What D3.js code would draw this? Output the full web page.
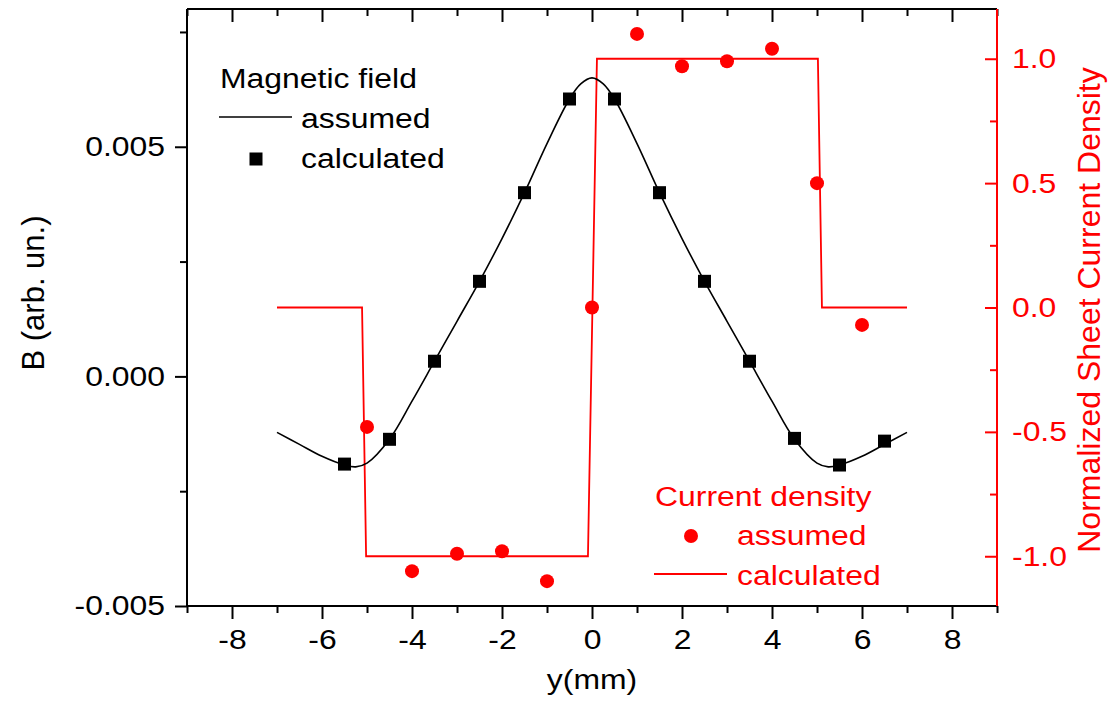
<!DOCTYPE html>
<html>
<head>
<meta charset="utf-8">
<script src="https://cdn.jsdelivr.net/npm/d3@7"></script>
<style>
  body { margin: 0; background: #fff; }
  svg text { font-family: Arial, "Liberation Sans", sans-serif; }
</style>
</head>
<body>
<div id="chart"></div>
<script>
// Magnetic field, assumed (smooth curve)
const fieldX = [-7, -6.5, -6, -5.5, -5.25, -5, -4.5, -4, -3.5, -3, -2.5, -2, -1.5, -1, -0.5, -0.25, 0,
                0.25, 0.5, 1, 1.5, 2, 2.5, 3, 3.5, 4, 4.5, 5, 5.25, 5.5, 6, 6.5, 7];
const fieldB = [-0.00122, -0.00148, -0.00174, -0.00193, -0.00197, -0.00189, -0.00137, -0.00054, 0.00033, 0.0012, 0.00207, 0.0030, 0.0040, 0.00507, 0.00604, 0.00637, 0.0065,
                0.00637, 0.00604, 0.00507, 0.0040, 0.0030, 0.00207, 0.0012, 0.00033, -0.00054, -0.00137, -0.00189, -0.00197, -0.00193, -0.00174, -0.00148, -0.00122];

// Magnetic field, calculated (squares)
const calcX = [-5.5, -4.5, -3.5, -2.5, -1.5, -0.5, 0.5, 1.5, 2.5, 3.5, 4.5, 5.5, 6.5];
const calcB = [-0.00191, -0.00137, 0.00033, 0.00207, 0.0040, 0.00604, 0.00604, 0.0040, 0.00207, 0.00033, -0.00135, -0.00193, -0.00141];

// Current density, assumed (dots)
const densX = [-5, -4, -3, -2, -1, 0, 1, 2, 3, 4, 5, 6];
const densJ = [-0.48, -1.06, -0.99, -0.98, -1.10, 0.0, 1.10, 0.97, 0.99, 1.04, 0.50, -0.07];

// Current density, calculated (step line)
const stepX = [-7, -5.11, -5.02, -0.09, 0.11, 5.02, 5.11, 7];
const stepJ = [0, 0, -1, -1, 1, 1, 0, 0];

const xMajor = [-8, -6, -4, -2, 0, 2, 4, 6, 8];
const xMinor = [-9, -7, -5, -3, -1, 1, 3, 5, 7, 9];
const bMajor = [-0.005, 0, 0.005];
const bMinor = [-0.0025, 0.0025, 0.0075];
const jMajor = [-1.0, -0.5, 0.0, 0.5, 1.0];
const jMinor = [-0.75, -0.25, 0.25, 0.75];

const width = 1109, height = 704;
const pLeft = 187, pRight = 997, pTop = 9, pBottom = 606;
const red = "#ff0000";
const fs = 28, sx = 1.14;   // horizontal text is drawn a bit wide in the original

const svg = d3.select("#chart").append("svg")
  .attr("width", width).attr("height", height)
  .attr("viewBox", [0, 0, width, height]);

const x = d3.scaleLinear().domain([-9, 9]).range([pLeft, pRight]);
const yB = d3.scaleLinear().domain([-0.005, 0.008]).range([pBottom, pTop]);
const yJ = d3.scaleLinear().domain([-1.2, 1.2]).range([pBottom, pTop]);

const minus = f => d => d < 0 ? "-" + f(-d) : f(d);

// widen horizontal text around its anchor point
const stretch = sel => sel.each(function() {
  const t = d3.select(this);
  const tx = +t.attr("x") || 0, ty = +t.attr("y") || 0;
  t.attr("x", null).attr("y", null)
    .attr("transform", `translate(${tx},${ty}) scale(${sx},1)`);
});

// Axes
const styleAxis = (g, color) => {
  g.select(".domain").remove();
  g.attr("font-family", null);
  g.selectAll("line").attr("stroke", color).attr("stroke-width", 2);
  g.selectAll("text").attr("fill", color).attr("font-size", fs).call(stretch);
};

// bottom
svg.append("g").attr("transform", `translate(0,${pBottom})`)
  .call(d3.axisBottom(x).tickValues(xMinor).tickSize(7).tickFormat(""))
  .call(g => styleAxis(g, "#000"));
svg.append("g").attr("transform", `translate(0,${pBottom})`)
  .call(d3.axisBottom(x).tickValues(xMajor).tickSize(13).tickPadding(10).tickFormat(minus(d3.format("d"))))
  .call(g => styleAxis(g, "#000"));

// top (ticks inward)
svg.append("g").attr("transform", `translate(0,${pTop})`)
  .call(d3.axisBottom(x).tickValues(xMinor).tickSize(7).tickFormat(""))
  .call(g => styleAxis(g, "#000"));
svg.append("g").attr("transform", `translate(0,${pTop})`)
  .call(d3.axisBottom(x).tickValues(xMajor).tickSize(13).tickFormat(""))
  .call(g => styleAxis(g, "#000"));

// left
svg.append("g").attr("transform", `translate(${pLeft},0)`)
  .call(d3.axisLeft(yB).tickValues(bMinor).tickSize(7).tickFormat(""))
  .call(g => styleAxis(g, "#000"));
svg.append("g").attr("transform", `translate(${pLeft},0)`)
  .call(d3.axisLeft(yB).tickValues(bMajor).tickSize(12).tickPadding(10).tickFormat(minus(d3.format(".3f"))))
  .call(g => styleAxis(g, "#000"));

// right (ticks inward, red)
svg.append("g").attr("transform", `translate(${pRight},0)`)
  .call(d3.axisLeft(yJ).tickValues(jMinor).tickSize(7).tickFormat(""))
  .call(g => styleAxis(g, red));
svg.append("g").attr("transform", `translate(${pRight},0)`)
  .call(d3.axisRight(yJ).tickValues(jMajor).tickSize(0).tickPadding(15).tickFormat(minus(d3.format(".1f"))))
  .call(g => styleAxis(g, red));
svg.append("g").attr("transform", `translate(${pRight},0)`)
  .call(d3.axisLeft(yJ).tickValues(jMajor).tickSize(12).tickFormat(""))
  .call(g => styleAxis(g, red));

// frame lines
svg.append("line").attr("x1", pLeft).attr("x2", pRight).attr("y1", pTop).attr("y2", pTop)
  .attr("stroke", "#000").attr("stroke-width", 2);
svg.append("line").attr("x1", pLeft).attr("x2", pRight).attr("y1", pBottom).attr("y2", pBottom)
  .attr("stroke", "#000").attr("stroke-width", 2);
svg.append("line").attr("x1", pLeft).attr("x2", pLeft).attr("y1", pTop).attr("y2", pBottom)
  .attr("stroke", "#000").attr("stroke-width", 2);
svg.append("line").attr("x1", pRight).attr("x2", pRight).attr("y1", pTop).attr("y2", pBottom)
  .attr("stroke", red).attr("stroke-width", 2);

// step line
svg.append("path")
  .datum(d3.zip(stepX, stepJ))
  .attr("fill", "none").attr("stroke", red).attr("stroke-width", 1.8)
  .attr("d", d3.line().x(d => x(d[0])).y(d => yJ(d[1])));

// field curve
svg.append("path")
  .datum(d3.zip(fieldX, fieldB))
  .attr("fill", "none").attr("stroke", "#000").attr("stroke-width", 1.6)
  .attr("d", d3.line().curve(d3.curveCatmullRom).x(d => x(d[0])).y(d => yB(d[1])));

// squares
const sq = 13;
svg.append("g").selectAll("rect")
  .data(d3.zip(calcX, calcB))
  .join("rect")
  .attr("x", d => x(d[0]) - sq / 2).attr("y", d => yB(d[1]) - sq / 2)
  .attr("width", sq).attr("height", sq).attr("fill", "#000");

// dots
svg.append("g").selectAll("circle")
  .data(d3.zip(densX, densJ))
  .join("circle")
  .attr("cx", d => x(d[0])).attr("cy", d => yJ(d[1]))
  .attr("r", 7).attr("fill", red);

// axis titles
svg.append("text").attr("x", x(0)).attr("y", 689).attr("text-anchor", "middle")
  .attr("font-size", fs).text("y(mm)").call(stretch);
svg.append("text").attr("transform", "translate(44,293) rotate(-90)").attr("text-anchor", "middle")
  .attr("font-size", 31).text("B (arb. un.)");
svg.append("text").attr("transform", "translate(1100,310) rotate(-90)").attr("text-anchor", "middle")
  .attr("font-size", 32).attr("fill", red).text("Normalized Sheet Current Density");

// legend: magnetic field
const leg1 = svg.append("g").attr("font-size", fs);
leg1.append("text").attr("x", 220).attr("y", 88).text("Magnetic field");
leg1.append("line").attr("x1", 219).attr("x2", 292).attr("y1", 117).attr("y2", 117)
  .attr("stroke", "#000").attr("stroke-width", 1.6);
leg1.append("text").attr("x", 301).attr("y", 128).text("assumed");
leg1.append("rect").attr("x", 256 - sq / 2).attr("y", 159 - sq / 2).attr("width", sq).attr("height", sq).attr("fill", "#000");
leg1.append("text").attr("x", 301).attr("y", 168).text("calculated");
leg1.selectAll("text").call(stretch);

// legend: current density
const leg2 = svg.append("g").attr("font-size", fs).attr("fill", red);
leg2.append("text").attr("x", 655).attr("y", 506).text("Current density");
leg2.append("circle").attr("cx", 691).attr("cy", 536).attr("r", 7).attr("fill", red);
leg2.append("text").attr("x", 737).attr("y", 545).text("assumed");
leg2.append("line").attr("x1", 654).attr("x2", 727).attr("y1", 574).attr("y2", 574)
  .attr("stroke", red).attr("stroke-width", 1.8);
leg2.append("text").attr("x", 737).attr("y", 585).text("calculated");
leg2.selectAll("text").call(stretch);
</script>
</body>
</html>
